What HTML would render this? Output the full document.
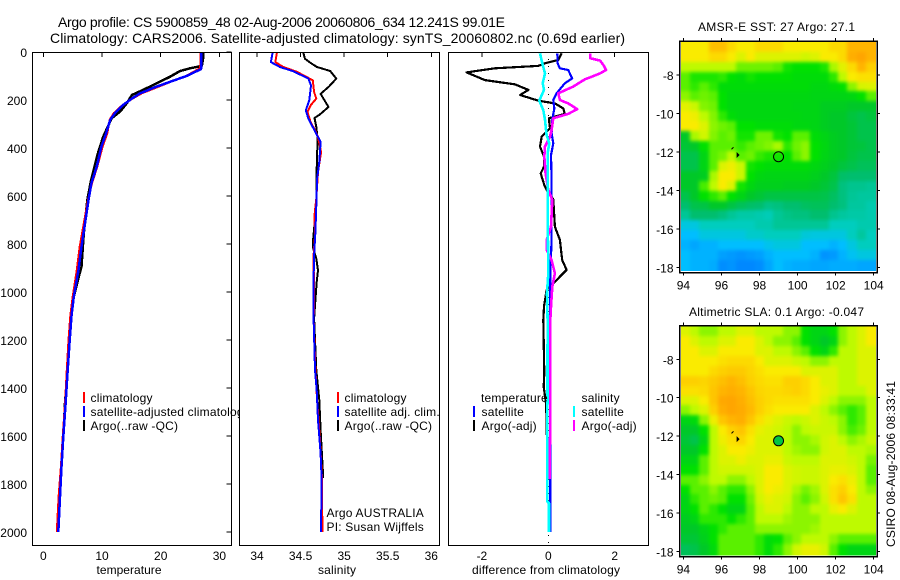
<!DOCTYPE html>
<html>
<head>
<meta charset="utf-8">
<title>Argo profile</title>
<style>
html,body{margin:0;padding:0;background:#fff;}
svg{display:block;font-family:"Liberation Sans",sans-serif;font-size:12px;fill:#000;}
.spaced text{letter-spacing:.2px;}
</style>
</head>
<body>
<svg id="fig" width="900" height="580" viewBox="0 0 900 580" xmlns="http://www.w3.org/2000/svg">
<defs>
<clipPath id="p1clip"><rect x="0" y="0" width="239" height="580"/></clipPath>
<clipPath id="sstClip"><rect x="681" y="42" width="195" height="229"/></clipPath>
<clipPath id="slaClip"><rect x="681" y="326.5" width="195" height="229"/></clipPath>
<filter id="mapBlur" x="-5%" y="-5%" width="110%" height="110%" color-interpolation-filters="sRGB"><feGaussianBlur stdDeviation="1.9"/></filter>
</defs>
<text x="58" y="27" font-size="14" textLength="447" lengthAdjust="spacing">Argo profile: CS 5900859_48 02-Aug-2006 20060806_634 12.241S 99.01E</text>
<text x="50" y="43" font-size="14" textLength="575" lengthAdjust="spacing">Climatology: CARS2006. Satellite-adjusted climatology: synTS_20060802.nc (0.69d earlier)</text>
<text transform="translate(895,547) rotate(-90)" textLength="166" lengthAdjust="spacing">CSIRO 08-Aug-2006 08:33:41</text>
<g id="root"></g>
</svg>
<script>
// ---- profile data ----
const tempClimDepth=[0,42,68,100,124,146,172,194,221,255,283,339,394,478,547,617,714,811,908,1019,1100,1200,1325,1464,1603,1728,1853,2000];
const tempClimValue=[26.8,26.8,26.7,24.3,21.7,19.5,16.8,15.2,13.5,12.0,11.3,10.9,10.1,9.2,8.3,7.6,6.9,6.2,5.7,5.0,4.6,4.3,4.0,3.7,3.3,3.0,2.6,2.3];
const tempSatDepth=[0,40,68,72,100,124,144,172,194,221,255,283,339,394,478,547,617,714,811,908,1019,1100,1200,1325,1464,1603,1728,1853,2000];
const tempSatValue=[26.9,26.9,26.9,26.8,24.4,21.6,19.3,16.5,15.1,13.6,12.2,11.4,10.7,9.9,9.1,8.2,7.7,7.1,6.5,6.0,5.2,4.8,4.5,4.15,3.8,3.4,3.1,2.85,2.55];
const tempArgoDepth=[0,30,58,68,79,103,131,158,179,214,248,276,353,422,540,617,755,894,922,1019,1100,1200,1325,1464,1603,1728,1780];
const tempArgoValue=[27.2,27.2,27.0,25.0,23.3,21.6,19.3,17.0,15.1,14.2,13.1,11.65,10.2,9.3,8.1,7.5,6.9,6.5,6.2,5.2,4.8,4.5,4.1,3.7,3.4,3.05,2.95];

const salClimDepth=[0,42,62,83,118,167,194,222,250,292,326,354,417,500,611,680,764,847,1056,1111,1325,1450,1600,1769,2000];
const salClimValue=[34.23,34.21,34.30,34.46,34.64,34.655,34.68,34.615,34.58,34.615,34.665,34.70,34.735,34.70,34.68,34.66,34.665,34.65,34.655,34.65,34.67,34.69,34.72,34.745,34.75];
const salSatDepth=[0,42,62,81,111,139,201,243,278,319,354,375,458,528,639,750,847,944,1111,1325,1408,1533,1672,1769,2000];
const salSatValue=[34.18,34.16,34.26,34.42,34.59,34.62,34.60,34.56,34.59,34.65,34.70,34.73,34.715,34.69,34.68,34.67,34.655,34.65,34.65,34.665,34.685,34.70,34.73,34.74,34.735];
const salArgoDepth=[0,28,44,62,79,111,146,174,229,261,275,312,361,431,542,625,694,778,812,861,910,958,1056,1111,1325,1450,1575,1742,1776];
const salArgoValue=[34.53,34.55,34.61,34.685,34.84,34.91,34.82,34.73,34.82,34.72,34.66,34.68,34.695,34.69,34.68,34.685,34.665,34.645,34.64,34.68,34.70,34.685,34.665,34.655,34.68,34.715,34.73,34.755,34.76];

const diffTempArgoDepth=[6,33,47,58,68,85,117,135,158,179,203,214,235,258,276,318,353,394,436,478,506,554,575,614,728,783,867,908,957,992,1061,1117,1339,1394,1464,1533,1780];
const diffTempArgoValue=[.40,.30,-.10,-.30,-1.61,-2.46,-1.91,-1.0,-.60,-.85,-.30,.20,.45,.50,.02,.05,-.20,-.25,-.13,-.13,-.23,-.12,-.05,.15,.20,.35,.42,.55,.20,-.05,-.13,-.15,-.12,-.14,-.07,-.05,-.02];
const diffTempSatDepth=[6,47,68,75,110,130,172,200,235,283,339,381,429,533,783,922,1117,1464,1742,2000];
const diffTempSatValue=[.27,.28,.35,.60,.72,.50,.25,.15,.18,.12,.10,.15,.08,.10,.10,.06,.05,.05,.06,.06];
const diffSalArgoDepth=[6,26,36,54,75,89,114,144,172,200,214,238,258,276,325,353,394,436,506,575,617,728,783,825,867,922,978,1061,1117,1408,1533,1742,1780];
const diffSalArgoValue=[1.26,1.26,1.56,1.66,1.74,1.56,1.10,.75,.30,.35,.60,.87,.60,.15,.10,.05,-.10,-.12,-.08,0,.12,.08,-.05,-.05,.10,.20,.12,.08,.06,.06,.06,.04,.04];
const diffSalSatDepth=[6,47,89,130,158,203,242,283,346,381,422,644,922,1006,1117,1873,1880,2000];
const diffSalSatValue=[-.25,-.18,-.10,-.17,-.13,-.27,-.15,-.10,-.05,.03,-.02,-.02,0,-.04,-.02,-.03,.02,.02];

// ---- tick labels ----
const depthTicks=[0,200,400,600,800,1000,1200,1400,1600,1800,2000];
const tempTicks=[0,10,20,30];
const salTicks=[34,34.5,35,35.5,36];
const diffTicks=[-2,0,2];
const lonTicks=[94,96,98,100,102,104];
const latTicks=[-8,-10,-12,-14,-16,-18];

// ---- map data: colour-scale level per cell, rows north to south ----
const sstGrid=[
[8,8,8,8.8,8.8,8.3,8,8,8.3,8.3,8.3,8,8,8,8,8,8.3,8.3,9,9,9],
[8,8,8,8.3,8.3,8,7.5,8,7.5,7.5,7.5,7.5,7.5,7.3,7.5,8,8,8.3,9.2,9.5,9],
[7,7,7,7,7,7,6.2,6.2,6.2,6.2,6,5.2,5,5,5,5.3,6.8,7.6,8.3,9,8.5],
[6,5.3,5.3,5.3,5.5,5,4.8,5.2,5,5,5,5,4.8,4.8,4.8,4.8,5.5,7,8,8.2,8.2],
[6,5.5,6,5.5,4.8,4.8,4.8,4.8,4.8,4.8,4.8,4.8,4.8,4.8,4.6,4.6,4.8,5,6.5,7.4,7.5],
[6.5,6,6.2,6,5,4.6,4.6,4.6,4.6,4.6,4.6,4.6,4.6,4.6,4.5,4.5,4.5,4.5,4.6,5,6],
[7.6,7.2,6.4,6.2,5,4.6,4.6,4.6,4.6,4.6,4.6,4.6,4.5,4.5,4.5,4.2,4.2,4.2,4,4,4],
[8,7.8,7,6.4,5.5,4.8,4.6,4.6,4.6,4.6,4.6,4.6,4.6,4.5,4.5,4.2,4,4,3.7,3.5,3.7],
[8,8,7.5,6.5,6.2,6,5,5,4.8,4.8,4.8,4.8,4.6,4.6,4.5,4.2,4,4,3.8,3.5,3.5],
[4,6.8,7.3,6.4,6,6.2,5.2,5.2,6.2,6.2,5.2,5,6,6,4.8,4.5,4.2,4,3.8,3.5,3.5],
[3.8,4,5,6,6,6,5.6,6,6.2,6.4,6.8,5.5,6.2,6.5,5,4.6,4.2,4,3.8,3.7,3.5],
[3.5,3.5,4.5,6,6.3,7,6,6.2,5.6,5.3,5.2,5,6,6.5,5,4.5,4.2,4,3.7,3.5,3.5],
[3.5,3.5,4.5,6,7.5,7.8,7.2,5.2,5,4.8,4.8,4.8,4.8,4.8,4.6,4.3,4,3.7,3.5,3.3,3.3],
[4,4,4.2,6.8,8,8,7.2,5,4.6,4.5,4.5,4.5,4.5,4.5,4.3,4,3.7,3.1,3,3,3],
[4,4,5.8,7,8,7.5,5.2,4.6,4.3,4.3,4.3,4.2,4.2,4.2,4,3.8,3.5,2.8,2.6,2.6,2.5],
[3.5,4,5,5.5,6,5,4.5,4,3.8,3.6,3.6,3.6,3.6,3.6,3.6,3.5,3.2,2.8,2.5,2.4,2.4],
[3,3.5,3.6,4,4,3.6,3.3,3.1,3,2.7,2.8,3,3,3.2,3.3,3.3,3,2.8,2.4,2.4,2.2],
[2.5,3,3,3,2.8,2.5,2.3,2.3,2.2,2.1,2.5,2.7,2.8,2.8,3,3,2.6,2.4,2.3,2.3,2.2],
[1.5,1.5,2,2,2,2,2,2,2.2,2.2,2.5,2.5,2.5,2.5,2.5,2.5,2,2,2,2.2,2.2],
[1,1,1.5,1.5,1.5,1.5,1.5,1.8,1.8,2,2,2,2,1.6,1.5,1.5,1.5,1.5,2,2.4,2],
[.8,.6,.8,.8,1,1,1,1,1,1.3,1.5,1.5,1.5,1,1,1,.8,1,1.5,2,2],
[1,.8,.8,.8,.5,.4,.3,.4,.5,.8,1,1,1,1,.8,.3,.4,.8,1.2,1.5,1.5],
[1,.8,.8,.7,.2,.3,.1,.1,.2,.6,1,.8,.7,.7,.6,.6,.7,.7,.7,.6,.6]
];
const slaGrid=[
[7.5,7,6.5,6.5,7,7,7.5,7.5,7,7,7,6.5,6.5,5,4.5,4.5,5,6.5,7,7.5,8],
[8,7.5,7,7,7.5,7.5,8,8,7.5,7,6.5,6.5,6,5,4.5,4,4.5,6.5,7,7.5,8],
[8,8,7.5,7.5,8,8,8,8,7.5,7.5,7,7,6.5,6,5,4.5,5.5,7,7,7.5,7.5],
[8,8,8,8,8.2,8.3,8.3,8.3,8,7.5,7.5,7.5,7.2,7,6.5,6.5,7,7,7,7.5,7.5],
[8,8,8,8.3,8.5,8.6,8.6,8.4,8.2,8,8,8,8,7.5,7.5,7.5,7.5,7,7,7.5,7.5],
[8.5,8.5,8.4,8.6,8.8,9,8.8,8.5,8.3,8.2,8.2,8.5,8.5,8.3,8,7.5,7.5,7,7,7.5,7.5],
[8.2,8.2,8.3,8.7,9,9.2,9,8.7,8.4,8.3,8.3,8.4,8.5,8.3,8,7.7,7.5,7,7,7,7.5],
[7.5,7.5,8,8.7,9.4,9.5,9.2,8.8,8.5,8.3,8.2,8.2,8.2,8.2,8,7.5,7,6.5,6.5,6.5,7],
[6.5,7,7.5,8.5,9.2,9.5,9.3,8.9,8.5,8.2,8,8,8,8,7.5,7,6.5,6,5.5,6,7],
[4.5,4.7,6.5,7.8,8.7,9,9.2,8.7,8.2,7.8,7.5,7.2,7,7.2,7.5,7.2,7,6.5,5.5,6,7],
[4,4,5,7,8,8.5,8.7,8.2,7.7,7.5,7.3,7,6.5,7,7.2,7.2,7.2,6.5,5.8,6.2,7],
[3.8,3.5,4.5,7,7.8,8.2,8.4,8,7.5,7.5,7.2,7,6.5,6.5,6.8,7.3,7.5,7,6.5,6.8,7.2],
[4,4,5,7,7.5,8,8,7.8,7.5,7.5,7.5,7,6.7,6.5,6.5,7.3,7.5,7.5,7,7,6.8],
[4.5,4.5,6,7,7.5,7.5,7.8,7.5,7.5,7.7,7.7,7.2,7,7,7,7.5,7.5,7.5,7.3,7,6.3],
[5,5,6,7,7.3,7.3,7.3,7.3,7.5,8,8,7.5,7.3,7.2,7.2,7.5,7.7,7.7,7.5,7,6],
[6,6,6.5,7,7,6.5,6.5,7,7.5,8,8,7.5,7.3,7.2,7.2,7.5,8,8.2,7.8,7,6],
[5,6,6,6.5,6,5.5,5.5,6.5,7.5,8,7.8,7.5,6.8,6.3,6.7,7.5,8.2,8.5,8,7,6.5],
[4.5,5.5,6,6.2,6,5,5,6.2,7.3,7.7,7.5,7.3,6.5,6,6.5,7.3,8.2,8.7,8.2,7,7],
[4.5,5,6,5.5,5,4.5,4.5,6,7,7.5,7.5,7,6.5,6.5,7,7,7.7,8,7.5,7,7],
[4.2,4.5,5.5,5.5,5.5,5,5.5,6,7,7,7,6.7,6.5,6.5,6.5,7,7,7,7,7,7],
[4,4,4.5,5,5.5,6,6,6,6.5,6.5,6.5,6.5,6.5,6.5,6.7,7,7,7,7,7,7],
[3.8,3.8,4.3,5,6,6,6,6,5.5,4.8,5,6,6.5,7,7,7,6.5,6,6,6,6],
[3.3,3.5,4,4.7,6,6,6,6,5.5,4.8,5.5,6.5,7.3,7.7,7.7,7.3,6,5,4.5,4.5,4.5]
];
const floatLon=[99.0];
const floatLat=[-12.241];
const trackLon=[96.85,96.58];
const trackLat=[-12.15,-11.8];
const slaMarkerLevel=[3.6];

const colorStops=[[0,130,255],[0,190,255],[0,205,190],[0,190,110],[0,200,40],[0,225,0],[90,240,0],[190,250,0],[250,235,0],[255,180,0],[255,150,0]];
function levelColor(v){
  const i=Math.max(0,Math.min(colorStops.length-2,Math.floor(v)));
  const t=v-i;
  const a=colorStops[i],b=colorStops[i+1];
  return 'rgb('+[0,1,2].map(k=>Math.round(a[k]+(b[k]-a[k])*t)).join(',')+')';
}

const NS='http://www.w3.org/2000/svg';
const root=document.getElementById('root');
function el(tag,attrs,parent){
  const e=document.createElementNS(NS,tag);
  for(const k in attrs)e.setAttribute(k,attrs[k]);
  (parent||root).appendChild(e);
  return e;
}
function label(str,x,y,anchor,parent){
  const t=el('text',{x:x,y:y,'text-anchor':anchor||'start'},parent);
  t.textContent=str;
  return t;
}
const depthY=d=>52+0.24*d;
const panels=[
 {key:'temperature',x0:32.5,x1:231.5,sx:v=>43.3+5.87*v,ticks:tempTicks,title:'temperature',tx:129,tl:65,right:true},
 {key:'salinity',x0:239.5,x1:439.5,sx:v=>257+87.15*(v-34),ticks:salTicks,title:'salinity',tx:337,tl:38,right:false},
 {key:'difference',x0:448.5,x1:648.5,sx:v=>548.3+33.2*v,ticks:diffTicks,title:'difference from climatology',tx:546,tl:148,right:false}
];
function drawFrame(p,i){
  const g=el('g',{});
  
  
  const box=el('rect',{x:p.x0,y:52.5,width:p.x1-p.x0,height:493,fill:'#fff',stroke:'none'},g);
  
  
  p.g=g;
  return g;
}
function drawAxes(p,i){
  const g=el('g',{'shape-rendering':'crispEdges'});
  
  
  el('rect',{x:p.x0,y:52.5,width:p.x1-p.x0,height:493,fill:'none',stroke:'#000','stroke-width':1},g);
  p.ticks.forEach(v=>{
    const x=p.sx(v);
    if(!(p.key==='difference'&&v===0)){
      el('line',{x1:x,x2:x,y1:52,y2:57,stroke:'#000'},g);
    }
    const t=label(String(v),x,560,'middle',g);
    
    
  });
  if(p.right){
    depthTicks.forEach(d=>{
      const y=depthY(d);
      el('line',{x1:p.x1-5,x2:p.x1,y1:y,y2:y,stroke:'#000'},g);
    });
  }
  if(i===0){
    depthTicks.forEach(d=>{
      const t=label(String(d),27,depthY(d)+5,'end',g);
      
      
    });
  }
  const tt=el('text',{x:p.tx,y:574,'text-anchor':'middle',textLength:p.tl,lengthAdjust:'spacing'},g);
  tt.textContent=p.title;
  
  
}
function series(p,depths,vals,color,w,name,parent){
  const pts=depths.map((d,i)=>p.sx(vals[i]).toFixed(1)+','+depthY(d).toFixed(1)).join(' ');
  const l=el('polyline',{points:pts,fill:'none',stroke:color,'stroke-width':w,'shape-rendering':'crispEdges','stroke-linejoin':'round'},parent||p.g);
  
  
}
function legendEntry(parent,barX,textX,baseY,color,str,name){
  if(color){
    const b=el('rect',{x:barX,y:baseY-10,width:2,height:11,fill:color,'shape-rendering':'crispEdges'},parent);
    
    
  }
  const t=label(str,textX,baseY,'start',parent);
  
  
}
panels.forEach(drawFrame);
// temperature
series(panels[0],tempArgoDepth,tempArgoValue,'#000',2.5,'temperature-argo-line');
series(panels[0],tempClimDepth,tempClimValue,'#f00',2,'temperature-climatology-line');
series(panels[0],tempSatDepth,tempSatValue,'#00f',2.5,'temperature-satellite-line');
// salinity
series(panels[1],salArgoDepth,salArgoValue,'#000',2,'salinity-argo-line');
series(panels[1],salClimDepth,salClimValue,'#f00',2,'salinity-climatology-line');
series(panels[1],salSatDepth,salSatValue,'#00f',2,'salinity-satellite-line');
// difference
const zero=el('line',{x1:panels[2].sx(0),x2:panels[2].sx(0),y1:52,y2:545,stroke:'#000','stroke-dasharray':'1 6','shape-rendering':'crispEdges'},panels[2].g);


series(panels[2],diffTempArgoDepth,diffTempArgoValue,'#000',2.2,'temperature-difference-argo-line');
series(panels[2],diffTempSatDepth,diffTempSatValue,'#00f',2.2,'temperature-difference-satellite-line');
series(panels[2],diffSalArgoDepth,diffSalArgoValue,'#f0f',2.6,'salinity-difference-argo-line');
series(panels[2],diffSalSatDepth,diffSalSatValue,'#0ff',2.6,'salinity-difference-satellite-line');
panels.forEach(drawAxes);

// legends
const leg1=el('g',{'clip-path':'url(#p1clip)','class':'spaced'});


legendEntry(leg1,83,90.5,402,'#f00','climatology','legend-climatology');
legendEntry(leg1,83,90.5,416,'#00f','satellite-adjusted climatology','legend-satellite-adjusted');
legendEntry(leg1,83,90.5,430,'#000','Argo(..raw -QC)','legend-argo');
const leg2=el('g',{'class':'spaced'});


legendEntry(leg2,337,344.5,402,'#f00','climatology','legend-sal-climatology');
legendEntry(leg2,337,344.5,416,'#00f','satellite adj. clim.','legend-sal-satellite');
legendEntry(leg2,337,344.5,430,'#000','Argo(..raw -QC)','legend-sal-argo');
const pi=el('g',{'class':'spaced'});


label('Argo AUSTRALIA',326.5,517,'start',pi);
label('PI: Susan Wijffels',326.5,531,'start',pi);
const leg3=el('g',{'class':'spaced'});


legendEntry(leg3,473,481,402,null,'temperature','legend-diff-temperature-heading');
legendEntry(leg3,473,481.5,416,'#00f','satellite','legend-diff-temp-satellite');
legendEntry(leg3,473,481.5,430,'#000','Argo(-adj)','legend-diff-temp-argo');
legendEntry(leg3,573,581.5,402,null,'salinity','legend-diff-salinity-heading');
legendEntry(leg3,573,581.5,416,'#0ff','satellite','legend-diff-sal-satellite');
legendEntry(leg3,573,581.5,430,'#f0f','Argo(-adj)','legend-diff-sal-argo');

// maps
const lonWest=93.87,lonEast=104.07,latNorth=-6.28,latSouth=-18.12;
function drawMap(cfg){
  const g=el('g',{});
  
  
  const sx=lon=>683.4+19.03*(lon-94);
  const sy=lat=>cfg.y8+cfg.k*(-8-lat);
  const rows=cfg.grid.length,cols=cfg.grid[0].length;
  const dLon=(lonEast-lonWest)/cols,dLat=(latNorth-latSouth)/rows;
  const clip=el('g',{'clip-path':'url(#'+cfg.clip+')'},g);
  
  
  const cells=el('g',{filter:'url(#mapBlur)'},clip);
  const bleed=14;
  cfg.grid.forEach((row,r)=>row.forEach((v,c)=>{
    let x0=Math.round(sx(lonWest+c*dLon)),x1=Math.round(sx(lonWest+(c+1)*dLon));
    let y0=Math.round(sy(latNorth-r*dLat)),y1=Math.round(sy(latNorth-(r+1)*dLat));
    if(c===0)x0-=bleed;
    if(c===cols-1)x1+=bleed;
    if(r===0)y0-=bleed;
    if(r===rows-1)y1+=bleed;
    const cell=el('rect',{x:x0,y:y0,width:x1-x0,height:y1-y0,fill:levelColor(v),'shape-rendering':'crispEdges'},cells);
    
    
  }));
  const ax=el('g',{'shape-rendering':'crispEdges'},g);
  
  
  el('rect',{x:679.5,y:cfg.top,width:197.5,height:cfg.bottom-cfg.top,fill:'none',stroke:'#000','stroke-width':1.5},ax);
  lonTicks.forEach(v=>{
    const x=sx(v);
    el('line',{x1:x,x2:x,y1:cfg.top-3,y2:cfg.top,stroke:'#000'},ax);
    el('line',{x1:x,x2:x,y1:cfg.bottom,y2:cfg.bottom+3,stroke:'#000'},ax);
    const t=label(String(v),x,cfg.bottom+17,'middle',ax);
    
    
  });
  latTicks.forEach(v=>{
    const y=sy(v);
    el('line',{x1:676.5,x2:679.5,y1:y,y2:y,stroke:'#000'},ax);
    el('line',{x1:877,x2:880,y1:y,y2:y,stroke:'#000'},ax);
    const t=label(String(v),673.5,y+5,'end',ax);
    
    
  });
  const tr=el('polygon',{points:[0,1,2].map(i=>{
      const dx=[-1,2,-1][i],dy=[-3,0,3][i];
      return (sx(trackLon[0])+dx)+','+(sy(trackLat[0])+dy);
    }).join(' '),fill:'#000'},g);
  
  
  const tr2=el('line',{x1:sx(trackLon[1])-1,y1:sy(trackLat[1])+1,x2:sx(trackLon[1])+1,y2:sy(trackLat[1])-1,stroke:'#000','stroke-width':1},g);
  
  
  const m=el('circle',{cx:sx(floatLon[0]),cy:sy(floatLat[0]),r:5,fill:cfg.marker,stroke:'#000','stroke-width':1},g);
  
  
  const tt=el('text',{x:cfg.tx,y:cfg.ty,textLength:cfg.tl,lengthAdjust:'spacing'},g);
  tt.textContent=cfg.title;
  
  
}
drawMap({name:'sst-map',cellName:'sst-cell',clip:'sstClip',grid:sstGrid,y8:75,k:19.27,top:41,bottom:272.5,marker:'none',title:'AMSR-E SST: 27 Argo: 27.1',tx:698,ty:31,tl:157});
drawMap({name:'sla-map',cellName:'sla-cell',clip:'slaClip',grid:slaGrid,y8:359.3,k:19.22,top:325.5,bottom:556.5,marker:levelColor(slaMarkerLevel[0]),title:'Altimetric SLA: 0.1 Argo: -0.047',tx:689,ty:316,tl:175});
</script>
</body>
</html>
